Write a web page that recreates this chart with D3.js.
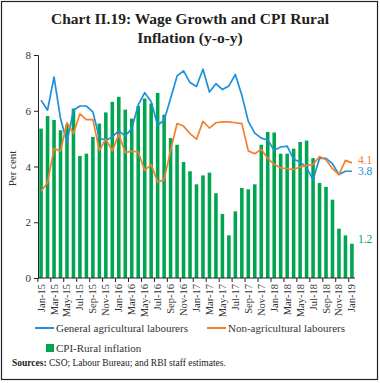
<!DOCTYPE html>
<html><head><meta charset="utf-8">
<script src="https://cdn.jsdelivr.net/npm/d3@7"></script>
<style>
html,body{margin:0;padding:0;background:#fff;}
svg{display:block;font-family:"Liberation Serif","Times New Roman",serif;}
</style></head>
<body><svg id="c" width="380" height="383"></svg>
<script>
const months = ["Jan-15","Feb-15","Mar-15","Apr-15","May-15","Jun-15","Jul-15","Aug-15","Sep-15","Oct-15","Nov-15","Dec-15",
"Jan-16","Feb-16","Mar-16","Apr-16","May-16","Jun-16","Jul-16","Aug-16","Sep-16","Oct-16","Nov-16","Dec-16",
"Jan-17","Feb-17","Mar-17","Apr-17","May-17","Jun-17","Jul-17","Aug-17","Sep-17","Oct-17","Nov-17","Dec-17",
"Jan-18","Feb-18","Mar-18","Apr-18","May-18","Jun-18","Jul-18","Aug-18","Sep-18","Oct-18","Nov-18","Dec-18",
"Jan-19"];
const cpiRural = [5.36,5.81,5.67,5.30,5.50,6.08,4.38,4.46,5.06,5.54,5.94,6.32,
6.50,6.04,5.72,6.17,6.44,6.26,6.64,5.86,5.02,4.78,4.16,3.83,
3.36,3.68,3.78,3.04,2.30,1.53,2.39,3.23,3.18,3.36,4.78,5.24,
5.22,4.46,4.46,4.64,4.88,4.93,4.30,3.41,3.27,2.81,1.77,1.53,
1.23];
const genAgri = [6.38,6.02,7.21,5.72,4.88,6.02,6.17,6.17,5.96,5.02,4.94,5.06,
5.28,5.10,5.36,6.20,6.65,6.32,5.48,5.66,6.44,7.25,7.43,7.01,
6.87,7.49,6.67,6.97,6.76,6.89,7.30,6.56,5.62,5.20,5.02,4.95,
4.58,4.70,4.73,4.26,4.16,3.96,3.52,4.30,4.29,4.10,3.71,3.83,
3.83];
const nonAgri = [3.11,3.42,4.64,4.56,5.57,5.18,5.89,5.68,5.68,4.58,4.98,4.56,
5.16,4.50,4.55,4.52,3.86,4.07,3.44,3.53,4.58,5.54,5.45,5.18,
4.98,5.62,5.38,5.57,5.60,5.60,5.57,5.54,4.56,4.46,4.62,4.29,
4.08,3.95,3.92,3.89,3.98,4.04,4.07,4.36,4.24,3.92,3.71,4.22,
4.13];
const yTicks = [0,2,4,6,8];
const endLabels = ["4.1","3.8","1.2"];

const C_BLUE = "#1e8fd9", C_ORANGE = "#f28030", C_GREEN = "#00a550";
const svg = d3.select("#c");

// frame
svg.append("rect").attr("x",1.5).attr("y",1.5).attr("width",376).attr("height",378)
  .attr("fill","none").attr("stroke","#222").attr("stroke-width",1.2);

// title
const title = svg.append("text").attr("text-anchor","middle").attr("font-weight","bold")
  .attr("font-size",15.5).attr("fill","#231f20");
title.append("tspan").attr("x",190).attr("y",24).text("Chart II.19: Wage Growth and CPI Rural");
title.append("tspan").attr("x",190).attr("y",43).text("Inflation (y-o-y)");

const L = 38, R = 355, T = 55, B = 278;
const x = d3.scaleBand().domain(months).range([L, R]).paddingInner(0.45).paddingOuter(0.2);
const y = d3.scaleLinear().domain([0,8]).range([B, T]);
const cx = d => x(d) + x.bandwidth()/2;

// bars
svg.append("g").selectAll("rect").data(months).join("rect")
  .attr("x", d => x(d)).attr("width", x.bandwidth())
  .attr("y", (d,i) => y(cpiRural[i])).attr("height", (d,i) => B - y(cpiRural[i]))
  .attr("fill", C_GREEN);

// lines
const line = d3.line().x((d,i) => cx(months[i])).y(d => y(d));
svg.append("path").datum(genAgri).attr("d", line).attr("fill","none")
  .attr("stroke", C_BLUE).attr("stroke-width",1.7).attr("stroke-linejoin","round");
svg.append("path").datum(nonAgri).attr("d", line).attr("fill","none")
  .attr("stroke", C_ORANGE).attr("stroke-width",1.7).attr("stroke-linejoin","round");

// y axis
const ya = svg.append("g").attr("transform",`translate(${L},0)`)
  .call(d3.axisLeft(y).tickValues(yTicks).tickSize(4).tickPadding(3).tickFormat(d3.format("d")));
ya.select(".domain").attr("stroke","#222").attr("stroke-width",1);
ya.selectAll(".tick line").attr("stroke","#222");
ya.selectAll(".tick text").attr("font-family","Liberation Serif").attr("font-size",11).attr("fill","#333");

svg.append("text").attr("transform",`translate(16,${(T+B)/2+2}) rotate(-90)`)
  .attr("text-anchor","middle").attr("font-size",11).attr("fill","#333").text("Per cent");

// x axis
const ticksShown = months.filter((d,i) => i % 2 === 0);
const xa = svg.append("g").attr("transform",`translate(0,${B})`);
xa.append("line").attr("x1",L).attr("x2",R).attr("stroke","#222");
xa.selectAll("line.tk").data(ticksShown).join("line").attr("class","tk")
  .attr("x1", d => x(d) - x.step()*x.paddingInner()/2).attr("x2", d => x(d) - x.step()*x.paddingInner()/2)
  .attr("y1",0).attr("y2",4).attr("stroke","#222");
xa.selectAll("text").data(ticksShown).join("text")
  .attr("transform", d => `translate(${cx(d)+3.5},6) rotate(-90)`)
  .attr("text-anchor","end").attr("font-size",10.5).attr("fill","#333").text(d => d);

// end labels
const lastI = months.length - 1;
const endX = cx(months[lastI]) + 6;
svg.append("text").attr("x", endX).attr("y", y(nonAgri[lastI]) + 1).attr("font-size",11.5)
  .attr("fill", C_ORANGE).text(endLabels[0]);
svg.append("text").attr("x", endX).attr("y", y(genAgri[lastI]) + 4).attr("font-size",11.5)
  .attr("fill", C_BLUE).text(endLabels[1]);
svg.append("text").attr("x", endX).attr("y", y(cpiRural[lastI]) - 1).attr("font-size",11.5)
  .attr("fill", C_GREEN).text(endLabels[2]);

// legend
const lg = svg.append("g").attr("font-size",11).attr("fill","#333");
lg.append("line").attr("x1",35).attr("x2",54).attr("y1",328).attr("y2",328).attr("stroke",C_BLUE).attr("stroke-width",2);
lg.append("text").attr("x",56).attr("y",332).text("General agricultural labourers");
lg.append("line").attr("x1",207).attr("x2",226).attr("y1",328).attr("y2",328).attr("stroke",C_ORANGE).attr("stroke-width",2);
lg.append("text").attr("x",228).attr("y",332).text("Non-agricultural labourers");
lg.append("rect").attr("x",46).attr("y",344).attr("width",8).attr("height",8).attr("fill",C_GREEN);
lg.append("text").attr("x",56).attr("y",352).text("CPI-Rural inflation");

const src = svg.append("text").attr("x",12).attr("y",366).attr("font-size",9.5).attr("fill","#222");
src.append("tspan").attr("font-weight","bold").text("Sources:");
src.append("tspan").text(" CSO; Labour Bureau; and RBI staff estimates.");
</script></body></html>
